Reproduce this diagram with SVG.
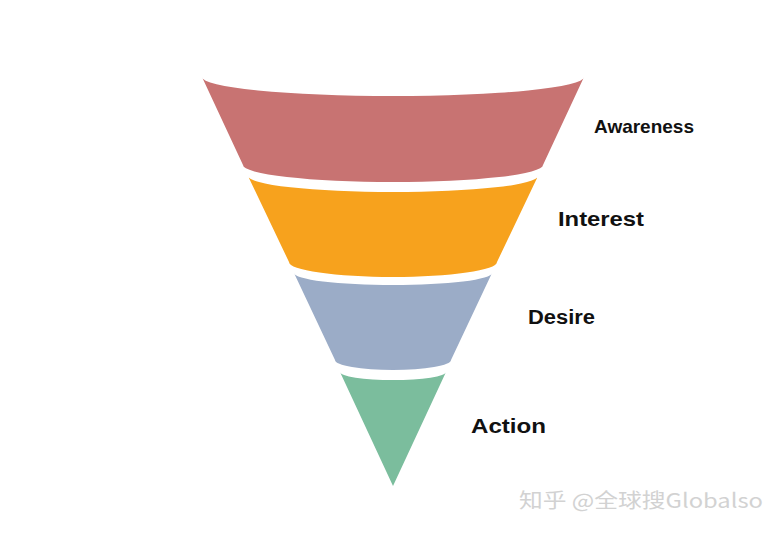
<svg xmlns="http://www.w3.org/2000/svg" width="783" height="533" viewBox="0 0 783 533">
<style>
.lbl{font-family:"Liberation Sans",Arial,sans-serif;font-weight:bold;fill:#111;}
.wm{font-family:"Noto Sans CJK SC","Liberation Sans",sans-serif;font-size:20px;fill:#d2d2d2;}
</style>
<rect width="783" height="533" fill="#ffffff"/>
<g id="awareness">
<path d="M202,77 A191,19 0 0 0 584,77 L543,165 A150,17 0 0 1 243,165 Z" fill="#C87372"/>
<text class="lbl" x="594" y="133" font-size="19" textLength="100" lengthAdjust="spacingAndGlyphs">Awareness</text>
</g>
<g id="interest">
<path d="M248,176 A145,16 0 0 0 538,176 L497,262 A104,15 0 0 1 289,262 Z" fill="#F7A21D"/>
<text class="lbl" x="558" y="226" font-size="21" textLength="86" lengthAdjust="spacingAndGlyphs">Interest</text>
</g>
<g id="desire">
<path d="M294,273 A99,12 0 0 0 492,273 L451,360 A58,10 0 0 1 335,360 Z" fill="#9BACC7"/>
<text class="lbl" x="528" y="324" font-size="20" textLength="67" lengthAdjust="spacingAndGlyphs">Desire</text>
</g>
<g id="action">
<path d="M340,372 A53,8 0 0 0 446,372 L393,486 Z" fill="#7BBD9D"/>
<text class="lbl" x="471" y="433" font-size="21" textLength="75" lengthAdjust="spacingAndGlyphs">Action</text>
</g>
<g id="connectors"></g>
<text class="wm" x="519" y="508" textLength="244" lengthAdjust="spacingAndGlyphs">知乎 @全球搜Globalso</text>
</svg>
